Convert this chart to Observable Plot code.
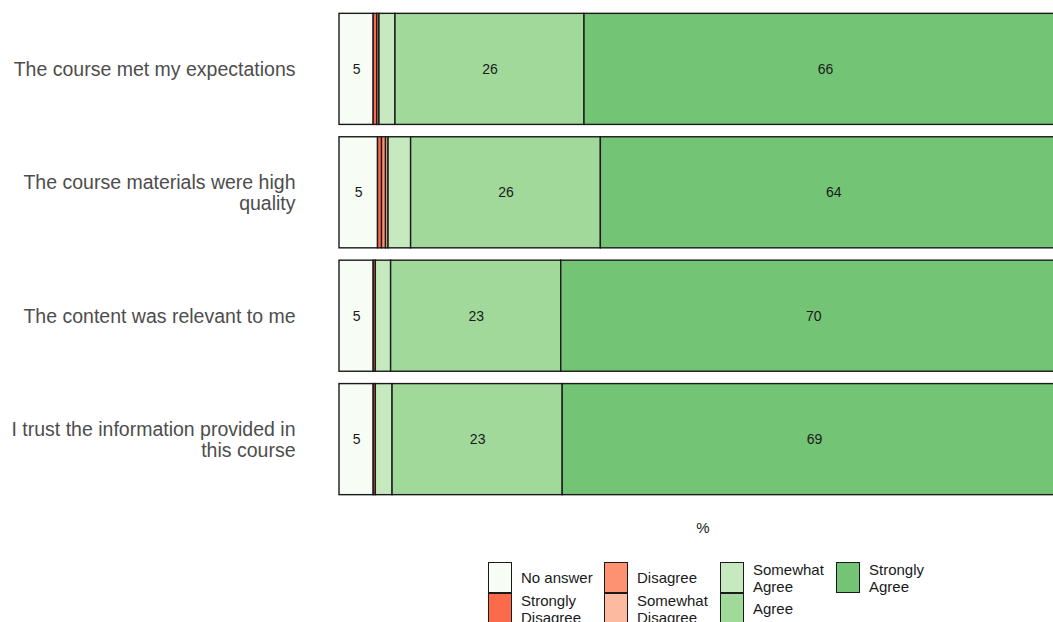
<!DOCTYPE html>
<html>
<head>
<meta charset="utf-8">
<script src="https://cdn.jsdelivr.net/npm/d3@7"></script>
<script src="https://cdn.jsdelivr.net/npm/@observablehq/plot@0.6"></script>
<style>
html, body { margin: 0; padding: 0; background: #fff; overflow: hidden; }
#wrap { position: relative; width: 1066px; height: 660px; font-family: "Liberation Sans", Arial, Helvetica, sans-serif; }
#legend { position: absolute; top: 562px; left: 488px; display: grid; grid-template-rows: 31px 31px; grid-auto-flow: column; grid-auto-columns: 116px; }
.item { display: flex; align-items: center; position: relative; height: 31px; }
.sw { width: 24px; height: 31px; box-sizing: border-box; border: 1.5px solid #1a1a1a; flex: none; }
.lab { margin-left: 9px; font-size: 15px; line-height: 17px; color: #1a1a1a; max-width: 80px; }
</style>
</head>
<body>
<div id="wrap"><div id="chart"></div><div id="legend"></div></div>
<script>
const questions = [
  "The course met my expectations",
  "The course materials were high quality",
  "The content was relevant to me",
  "I trust the information provided in this course"
];
const questionLabels = [
  "The course met my expectations",
  "The course materials were high\nquality",
  "The content was relevant to me",
  "I trust the information provided in\nthis course"
];
const responses = ["No answer", "Strongly Disagree", "Disagree", "Somewhat Disagree", "Somewhat Agree", "Agree", "Strongly Agree"];
const colors = ["#f7fcf5", "#fb6a4a", "#fc9272", "#fcbba1", "#c7e9c0", "#a1d99b", "#74c476"];

const noAnswer         = [4.7, 5.3, 4.7, 4.7];
const stronglyDisagree = [0.5, 0.55, 0.3, 0.3];
const disagree         = [0.3, 0.55, 0, 0];
const somewhatDisagree = [0, 0.35, 0, 0];
const somewhatAgree    = [2.2, 3.1, 2.1, 2.3];
const agree            = [26.0, 26.1, 23.4, 23.4];
const stronglyAgree    = [66.3, 64.1, 69.5, 69.3];

const series = [noAnswer, stronglyDisagree, disagree, somewhatDisagree, somewhatAgree, agree, stronglyAgree];
const rows = [];
questions.forEach((q, i) => {
  responses.forEach((r, j) => {
    const v = series[j][i];
    if (v > 0) rows.push({question: q, response: r, value: v});
  });
});
const labelMap = new Map(questions.map((q, i) => [q, questionLabels[i]]));

const chart = Plot.plot({
  width: 1066,
  height: 547,
  marginLeft: 339,
  marginRight: 0,
  marginTop: 1,
  marginBottom: 40,
  style: { fontFamily: '"Liberation Sans", Arial, Helvetica, sans-serif', fontSize: "19.5px", color: "#4d4d4d", maxWidth: "none", overflow: "visible" },
  x: { domain: [0, 100], axis: null },
  y: { domain: questions, padding: 0.1, round: false, axis: null },
  color: { domain: responses, range: colors },
  marks: [
    Plot.axisY({ label: null, tickSize: 0, tickPadding: 44, tickFormat: d => labelMap.get(d), lineHeight: 1.08, fill: "#4d4d4d" }),
    Plot.barX(rows, Plot.stackX({ x: "value", y: "question", fill: "response", z: "response", order: responses, stroke: "#1a1a1a", strokeWidth: 1.4 })),
    Plot.text(rows, Plot.stackX({ x: "value", y: "question", z: "response", order: responses,
      text: d => d.value >= 4 ? String(Math.round(d.value)) : null, fill: "#1a1a1a", fontSize: 14 })),
    Plot.text(["%"], { frameAnchor: "bottom", lineAnchor: "middle", dy: 21, fill: "#1a1a1a", fontSize: 15 })
  ]
});
chart.style.maxWidth = "none";
document.getElementById("chart").appendChild(chart);

const legend = document.getElementById("legend");
responses.forEach((r, i) => {
  const item = document.createElement("div");
  item.className = "item";
  const sw = document.createElement("div");
  sw.className = "sw";
  sw.style.background = colors[i];
  const lab = document.createElement("div");
  lab.className = "lab";
  lab.textContent = r;
  item.appendChild(sw);
  item.appendChild(lab);
  legend.appendChild(item);
});
</script>
</body>
</html>
